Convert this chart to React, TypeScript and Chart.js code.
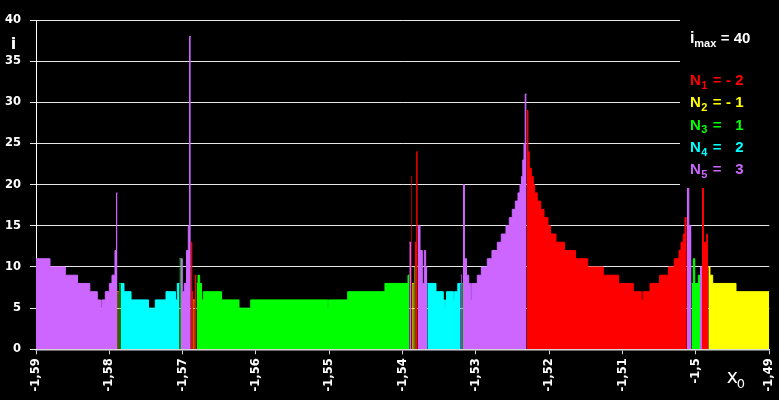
import React, { useEffect, useRef } from 'react';
import { Chart, registerables } from 'chart.js';

Chart.register(...registerables);

// Segment start positions (x0), iteration count i, and class (index into series)
const segStart = [
  -1.59000, -1.58809, -1.58600, -1.58434, -1.58266, -1.58164, -1.58120, -1.58103, -1.58055, -1.58000,
  -1.57964, -1.57923, -1.57902, -1.57889, -1.57874, -1.57864, -1.57846, -1.57800, -1.57704, -1.57466,
  -1.57373, -1.57227, -1.57098, -1.57073, -1.57043, -1.57025, -1.57005, -1.56978, -1.56948, -1.56923,
  -1.56907, -1.56889, -1.56875, -1.56855, -1.56837, -1.56810, -1.56791, -1.56769, -1.56743, -1.56719,
  -1.56470, -1.56232, -1.56072, -1.55022, -1.55009, -1.54749, -1.54241, -1.53927, -1.53909, -1.53883,
  -1.53870, -1.53849, -1.53834, -1.53808, -1.53795, -1.53763, -1.53732, -1.53705, -1.53686, -1.53664,
  -1.53545, -1.53446, -1.53425, -1.53414, -1.53401, -1.53309, -1.53296, -1.53248, -1.53208, -1.53193,
  -1.53180, -1.53157, -1.53129, -1.53099, -1.53072, -1.53058, -1.52982, -1.52927, -1.52846, -1.52782,
  -1.52709, -1.52655, -1.52591, -1.52546, -1.52505, -1.52464, -1.52427, -1.52400, -1.52379, -1.52362,
  -1.52345, -1.52329, -1.52310, -1.52291, -1.52273, -1.52246, -1.52218, -1.52199, -1.52164, -1.52117,
  -1.52072, -1.52018, -1.51984, -1.51909, -1.51793, -1.51643, -1.51476, -1.51264, -1.51054, -1.50855,
  -1.50746, -1.50722, -1.50627, -1.50497, -1.50377, -1.50296, -1.50231, -1.50204, -1.50173, -1.50150,
  -1.50125, -1.50098, -1.50061, -1.50036, -1.50017, -1.49968, -1.49945, -1.49918, -1.49897, -1.49854,
  -1.49844, -1.49832, -1.49809, -1.49772, -1.49454,
];
const segEnd = -1.49;

const segLevel = [
  11, 10, 9, 8, 7, 6, 5, 6, 7, 8,
  9, 12, 19, 7, 7, 8, 8, 7, 6, 5,
  6, 7, 6, 8, 11, 11, 7, 8, 12, 15,
  38, 13, 7, 6, 9, 8, 9, 8, 6, 7,
  6, 5, 6, 5, 6, 7, 8, 9, 13, 21,
  8, 10, 13, 24, 15, 12, 8, 12, 10, 8,
  7, 6, 5, 6, 7, 6, 7, 8, 9, 8,
  20, 11, 9, 8, 6, 8, 9, 10, 11, 12,
  13, 14, 15, 16, 17, 18, 19, 20, 21, 23,
  25, 31, 29, 24, 22, 21, 20, 19, 18, 17,
  16, 15, 14, 13, 12, 11, 10, 9, 8, 7,
  6, 7, 8, 9, 10, 11, 12, 13, 14, 16,
  20, 15, 8, 11, 8, 9, 10, 20, 13, 14,
  10, 10, 9, 8, 7,
];

// 0: N1, 1: N2, 2: N3, 3: N4, 4: N5
const segClass = [
  4, 4, 4, 4, 4, 4, 4, 4, 4, 4,
  4, 4, 4, 1, 0, 2, 3, 3, 3, 3,
  3, 3, 3, 3, 2, 4, 4, 4, 4, 4,
  4, 0, 0, 1, 0, 2, 2, 2, 2, 2,
  2, 2, 2, 2, 2, 2, 2, 2, 4, 0,
  1, 2, 0, 0, 4, 4, 4, 4, 4, 3,
  3, 3, 3, 3, 3, 3, 3, 3, 4, 2,
  4, 4, 4, 4, 4, 4, 4, 4, 4, 4,
  4, 4, 4, 4, 4, 4, 4, 4, 4, 4,
  4, 4, 0, 0, 0, 0, 0, 0, 0, 0,
  0, 0, 0, 0, 0, 0, 0, 0, 0, 0,
  0, 0, 0, 0, 0, 0, 0, 0, 0, 0,
  4, 4, 2, 2, 2, 2, 4, 0, 0, 0,
  0, 1, 1, 1, 1,
];

const seriesNames = ['N1', 'N2', 'N3', 'N4', 'N5'];
const seriesSubs = ['1', '2', '3', '4', '5'];
const seriesValues = ['- 2', '- 1', '1', '2', '3'];
const seriesColors = ['#FF0000', '#FFFF00', '#00FF00', '#00FFFF', '#CC66FF'];

const xTicks = [-1.59, -1.58, -1.57, -1.56, -1.55, -1.54, -1.53, -1.52, -1.51, -1.5, -1.49];
const xTickLabels = ['-1,59', '-1,58', '-1,57', '-1,56', '-1,55', '-1,54', '-1,53', '-1,52', '-1,51', '-1,5', '-1,49'];
const yTicks = [0, 5, 10, 15, 20, 25, 30, 35, 40];
const iMax = 40;

function buildSeries(k: number) {
  const pts: { x: number; y: number | null }[] = [];
  for (let i = 0; i < segStart.length; i++) {
    if (segClass[i] !== k) continue;
    const s = segStart[i];
    const e = i + 1 < segStart.length ? segStart[i + 1] : segEnd;
    pts.push({ x: s, y: segLevel[i] }, { x: e, y: segLevel[i] });
    const nextSame = i + 1 < segStart.length && segClass[i + 1] === k;
    if (!nextSame) pts.push({ x: e, y: null });
  }
  return pts;
}

const TICK_FONT = '"DejaVu Sans", sans-serif';
const LEG_FONT = '"Liberation Sans", Arial, sans-serif';

const annotations = {
  id: 'annotations',
  beforeDraw(chart: any) {
    const ctx = chart.ctx;
    ctx.save();
    ctx.fillStyle = '#000';
    ctx.fillRect(0, 0, chart.width, chart.height);
    ctx.restore();
  },
  afterDatasetsDraw(chart: any) {
    const ctx = chart.ctx;
    const { right } = chart.chartArea;
    const boxLeft = right - 89.3;
    ctx.save();
    ctx.fillStyle = '#000';
    ctx.fillRect(boxLeft, 0, chart.width - boxLeft, 188);

    const x0 = boxLeft + 10;
    ctx.textBaseline = 'alphabetic';
    ctx.textAlign = 'left';
    // i_max = 40
    ctx.fillStyle = '#FFFFFF';
    ctx.font = `bold 16px ${LEG_FONT}`;
    ctx.fillText('i', x0, 42.5);
    ctx.font = `bold 11px ${LEG_FONT}`;
    ctx.fillText('max', x0 + 4.3, 46.5);
    ctx.font = `bold 15px ${LEG_FONT}`;
    ctx.fillText('= ' + iMax, x0 + 30.7, 42.5);

    seriesNames.forEach((_, k) => {
      const base = 85 + k * 22.3;
      ctx.fillStyle = seriesColors[k];
      ctx.textAlign = 'left';
      ctx.font = `bold 15px ${LEG_FONT}`;
      ctx.fillText('N', x0, base);
      ctx.font = `bold 11px ${LEG_FONT}`;
      ctx.fillText(seriesSubs[k], x0 + 11.3, base + 3.8);
      ctx.font = `bold 15px ${LEG_FONT}`;
      ctx.fillText('=', x0 + 22.7, base);
      ctx.textAlign = 'right';
      ctx.fillText(seriesValues[k], x0 + 53.5, base);
    });
    ctx.restore();
  },
  afterDraw(chart: any) {
    const ctx = chart.ctx;
    const { left, right, bottom, top } = chart.chartArea;
    ctx.save();
    ctx.fillStyle = '#FFFFFF';
    ctx.textBaseline = 'alphabetic';
    ctx.textAlign = 'center';
    ctx.font = `bold 16px ${TICK_FONT}`;
    ctx.fillText('i', left - 22.5, top + 29);
    ctx.textAlign = 'left';
    ctx.font = `19px ${TICK_FONT}`;
    ctx.fillText('x', right - 42.5, bottom + 33.5);
    ctx.font = `13px ${TICK_FONT}`;
    ctx.fillText('0', right - 32.5, bottom + 38.5);
    ctx.restore();
  },
};

export default function App() {
  const ref = useRef<HTMLCanvasElement>(null);

  useEffect(() => {
    if (!ref.current) return;
    const datasets = seriesNames.map((name, k) => ({
      label: name,
      data: buildSeries(k),
      borderColor: seriesColors[k],
      backgroundColor: seriesColors[k],
      borderWidth: 1,
      pointRadius: 0,
      fill: 'origin',
      stepped: true,
      tension: 0,
      spanGaps: false,
    }));

    const chart = new Chart(ref.current, {
      type: 'line',
      data: { datasets: datasets as any },
      options: {
        responsive: false,
        animation: false,
        devicePixelRatio: 1,
        layout: { padding: { top: 20, right: 9.7, left: 0, bottom: 0 } },
        plugins: {
          legend: { display: false },
          tooltip: { enabled: false },
        },
        scales: {
          x: {
            type: 'linear',
            min: -1.59,
            max: -1.49,
            afterBuildTicks: (scale: any) => {
              scale.ticks = xTicks.map((v) => ({ value: v }));
            },
            afterFit: (scale: any) => {
              scale.height = 50.7;
              scale.paddingLeft = 0;
              scale.paddingRight = 0;
            },
            ticks: {
              color: '#FFFFFF',
              font: { family: TICK_FONT, size: 11.5, weight: 'bold' },
              minRotation: 90,
              maxRotation: 90,
              autoSkip: false,
              padding: 4,
              callback: (_v: any, i: number) => xTickLabels[i] ?? '',
            },
            grid: {
              drawOnChartArea: false,
              drawTicks: true,
              tickLength: 5,
              color: '#D8D8D8',
            },
            border: { color: '#D8D8D8', width: 1.5 },
          },
          y: {
            min: 0,
            max: 40,
            afterBuildTicks: (scale: any) => {
              scale.ticks = yTicks.map((v) => ({ value: v }));
            },
            afterFit: (scale: any) => {
              scale.width = 36;
              scale.paddingTop = 0;
              scale.paddingBottom = 0;
            },
            ticks: {
              color: '#FFFFFF',
              font: { family: TICK_FONT, size: 11.5, weight: 'bold' },
              padding: 9,
              callback: (v: any) => String(v),
            },
            grid: {
              color: '#E8E8E8',
              lineWidth: 1,
              tickLength: 6,
            },
            border: { color: '#FFFFFF', width: 1 },
          },
        },
      },
      plugins: [annotations],
    });
    return () => chart.destroy();
  }, []);

  return (
    <div style={{ position: 'fixed', left: 0, top: 0, width: 779, height: 400, background: '#000' }}>
      <canvas ref={ref} width={779} height={400} style={{ display: 'block' }} />
    </div>
  );
}
